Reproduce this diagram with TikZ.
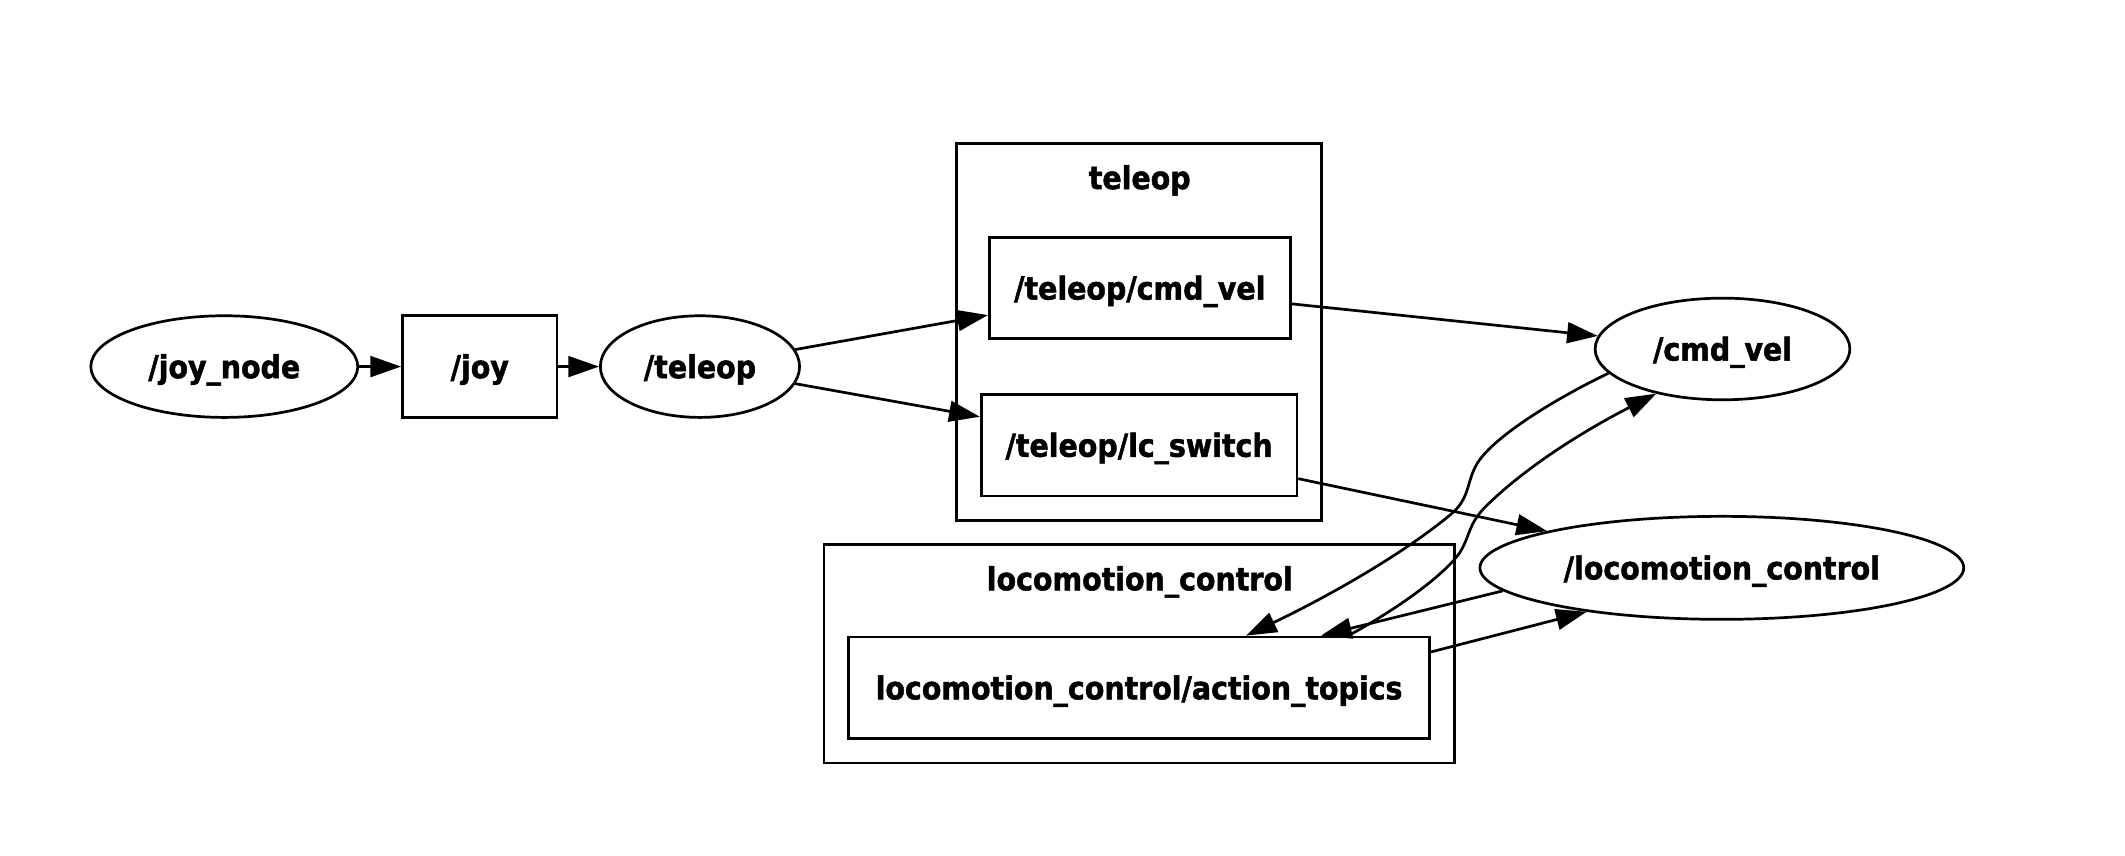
\documentclass[tikz,border=0pt]{standalone}
\usepackage{fontspec}
\newfontfamily\gvfont{DejaVu Sans Condensed Bold}[FakeBold=1.6]
\usetikzlibrary{shapes.geometric,arrows.meta}

\tikzset{
  gvtext/.style={font=\gvfont\fontsize{17.5}{20}\selectfont, text height=13.3pt, text depth=0.5pt},
  gvnode/.style={draw, ellipse, line width=1.5pt, inner sep=0pt, minimum height=56.25pt, gvtext},
  gvtopic/.style={draw, rectangle, line width=1.5pt, inner sep=0pt, minimum height=56.25pt, gvtext},
  gvlabel/.style={inner sep=0pt, gvtext},
  gvedge/.style={line width=1.5pt, -{Triangle[length=17pt,width=11.5pt]}},
}

\begin{document}
\begin{tikzpicture}[x=0.75pt,y=0.75pt,yscale=-1,xscale=1]
\useasboundingbox (0,0) rectangle (1568,631);

%Clusters
\draw [line width=1.5pt] (706,106) rectangle (975,384);
\draw [line width=1.5pt] (608,402) rectangle (1073,563);
\node [gvlabel] (teleopcl) at (841,131) {teleop};
\node [gvlabel] (lococl) at (841,427) {locomotion\_control};

%Nodes
\node [gvnode, minimum width=147.75pt] (joynode) at (165.5,270.5) {/joy\_node};
\node [gvnode, minimum width=110.25pt] (teleop) at (516.5,270.5) {/teleop};
\node [gvnode, minimum width=141pt] (cmdvel) at (1271,257.5) {/cmd\_vel};
\node [gvnode, minimum width=267.75pt, minimum height=57pt] (loco) at (1270.5,419) {/locomotion\_control};

%Topics
\node [gvtopic, minimum width=85.5pt] (joy) at (354,270.5) {/joy};
\node [gvtopic, minimum width=166.5pt] (tcmdvel) at (841,212.5) {/teleop/cmd\_vel};
\node [gvtopic, minimum width=174.75pt] (tlcswitch) at (840.5,328.5) {/teleop/lc\_switch};
\node [gvtopic, minimum width=321.75pt] (actiontopics) at (840.5,507.5) {locomotion\_control/action\_topics};

%Straight Lines
\draw [gvedge] (joynode) -- (joy);
\draw [gvedge] (joy) -- (teleop);
\draw [gvedge] (teleop) -- (tcmdvel);
\draw [gvedge] (teleop) -- (tlcswitch);
\draw [gvedge] (tcmdvel) -- (cmdvel);
\draw [gvedge] (tlcswitch) -- (loco);
\draw [gvedge] (loco.186.9) -- (actiontopics.16.6);
\draw [gvedge] (actiontopics.7.8) -- (loco.198.5);

%Curves
\draw [gvedge] (cmdvel.192.4) .. controls (1140,298) and (1100,325) .. (1090,342) .. controls (1082,355) and (1085,368) .. (1070,380) .. controls (1030,413) and (970,445) .. (actiontopics.26.4);
\draw [gvedge] (actiontopics.14.1) .. controls (1030,450) and (1065,425) .. (1077,408) .. controls (1085,395) and (1083,388) .. (1095,375) .. controls (1130,340) and (1180,312) .. (cmdvel.214.4);

\end{tikzpicture}
\end{document}
